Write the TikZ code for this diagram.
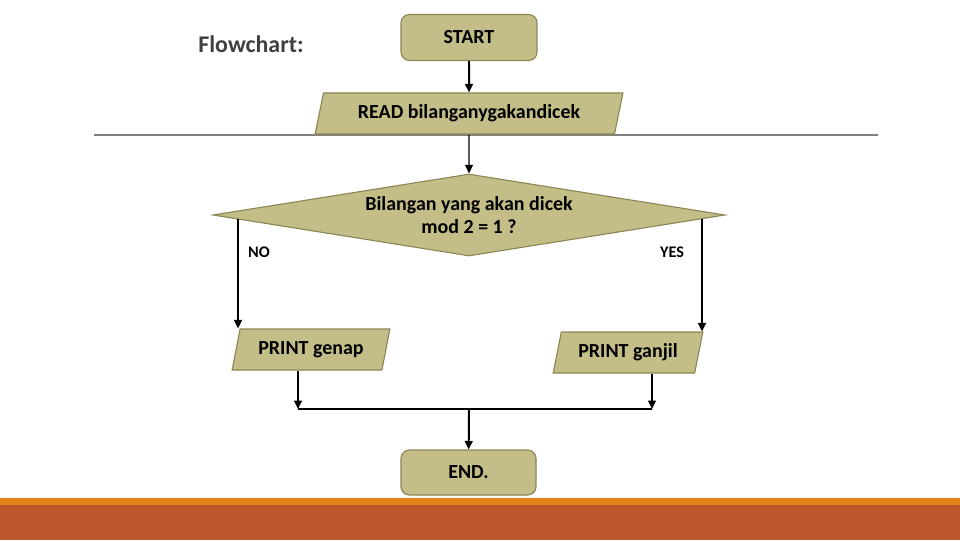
\documentclass[tikz,border=0pt]{standalone}
\usepackage{fontspec}
\setmainfont{Carlito}
\usetikzlibrary{shapes.geometric, arrows.meta}
\definecolor{khaki}{RGB}{195,190,135}
\definecolor{khakiline}{RGB}{140,134,86}
\definecolor{barorange}{RGB}{226,131,24}
\definecolor{barrust}{RGB}{188,88,44}
\definecolor{rulegray}{RGB}{128,128,128}
\definecolor{titlegray}{RGB}{64,64,64}

\begin{document}
\begin{tikzpicture}[
				x=0.025cm, y=-0.025cm,
				font=\bfseries\fontsize{14.2}{16.3}\selectfont,
				>={Triangle[length=6pt, width=5.5pt]},
				flow/.style={line width=1.4pt},
				term/.style={draw=khakiline, fill=khaki, line width=0.8pt, rounded corners=6pt},
				io/.style={trapezium, trapezium left angle=76, trapezium right angle=104,
					trapezium stretches=true, draw=khakiline, fill=khaki, line width=0.8pt,
					minimum height=1.025cm},
				decision/.style={diamond, aspect=6, draw=khakiline, fill=khaki, line width=0.8pt,
					align=center, inner sep=0pt},
				tag/.style={font=\bfseries\fontsize{11.5}{13}\selectfont}
				]
				\useasboundingbox (0,0) rectangle (960,540);
				\fill[white] (0,0) rectangle (960,540);
				% bars at the foot
				\fill[barorange] (0,498) rectangle (960,505);
				\fill[barrust] (0,505) rectangle (960,540);
				\draw[rulegray, line width=1pt] (94,135) -- (878,135);

				\node[text=titlegray, font=\bfseries\fontsize{17}{20}\selectfont] (title) at (251,44) {Flowchart:};
				\node[term, minimum width=3.4cm, minimum height=1.15cm] (start) at (469,37.5) {START};
				\node[io, minimum width=7.7cm] (read) at (469,113.5) {READ bilanganygakandicek};
				\node[decision, minimum width=12.8cm, minimum height=2.05cm] (dia) at (469,215)
					{Bilangan yang akan dicek\\mod 2 = 1 ?};
				\node[tag] (no) at (259,252) {NO};
				\node[tag] (yes) at (672,252) {YES};
				\node[io, minimum width=3.95cm] (genap) at (311,349.5) {PRINT genap};
				\node[io, minimum width=3.75cm] (ganjil) at (628,352.5) {PRINT ganjil};
				\node[term, minimum width=3.375cm, minimum height=1.125cm] (end) at (468.5,472.5) {END.};

				\coordinate (nl) at (238,219);
				\coordinate (yl) at (702,219);
				\coordinate (jl) at (298,409);
				\coordinate (jr) at (652,409);
				\coordinate (jm) at (469,409);

				\draw[flow, ->] (start) -- (read);
				\draw[line width=1pt, ->] (read) -- (dia);
				\draw[flow, ->] (nl) -- (nl |- genap.north);
				\draw[flow, ->] (yl) -- (yl |- ganjil.north);
				\draw[flow, ->] (jl |- genap.south) -- (jl);
				\draw[flow, ->] (jr |- ganjil.south) -- (jr);
				\draw[flow] (jl) -- (jr);
				\draw[flow, ->] (jm) -- (end);
			\end{tikzpicture}
\end{document}
